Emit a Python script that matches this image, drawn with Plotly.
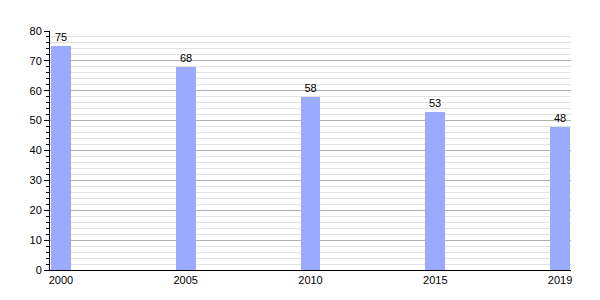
import plotly.graph_objects as go

years = ["2000", "2005", "2010", "2015", "2019"]
values = [75, 68, 58, 53, 48]

fig = go.Figure()
fig.add_trace(go.Bar(
    x=years, y=values,
    marker=dict(color="#99aaff", line=dict(width=0)),
    width=0.16,
    text=[str(v) for v in values],
    textposition="outside",
    textfont=dict(family="Liberation Sans, Arial", size=11, color="black"),
    cliponaxis=False,
))
fig.update_layout(
    width=600, height=300,
    margin=dict(l=50, r=29, t=31, b=30),
    paper_bgcolor="white", plot_bgcolor="white",
    showlegend=False,
    font=dict(family="Liberation Sans, Arial", size=11, color="black"),
    bargap=0,
)
fig.update_xaxes(
    type="category", range=[-0.088, 4.088],
    showline=True, linecolor="black", linewidth=1,
    ticks="", showgrid=False,
    tickfont=dict(size=11, color="black"),
)
fig.update_yaxes(
    range=[0, 80], dtick=10,
    showline=True, linecolor="black", linewidth=1,
    ticks="outside", ticklen=5, tickcolor="black",
    showgrid=True, gridcolor="#b0b0b0", gridwidth=1,
    minor=dict(dtick=2, showgrid=True, gridcolor="#e2e2e2", ticks="outside", ticklen=3, tickcolor="black"),
    zeroline=False,
    tickfont=dict(size=11, color="black"),
)
fig.write_html("out.html")
